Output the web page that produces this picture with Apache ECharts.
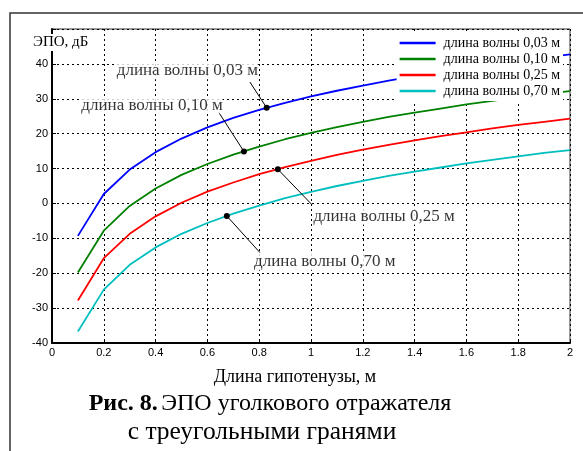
<!DOCTYPE html>
<html>
<head>
<meta charset="utf-8">
<script src="https://cdn.jsdelivr.net/npm/echarts@6/dist/echarts.min.js"></script>
<style>
  html, body { margin: 0; padding: 0; background: #fff; }
  #chart { width: 583px; height: 451px; }
</style>
</head>
<body>
<div id="chart"></div>
<script>
// длина гипотенузы, м
var hyp = [0.1, 0.2, 0.3, 0.4, 0.5, 0.6, 0.7, 0.8, 0.9, 1.0,
           1.1, 1.2, 1.3, 1.4, 1.5, 1.6, 1.7, 1.8, 1.9, 2.0];
// ЭПО, дБ
var wave003 = [-9.3, 2.7, 9.7, 14.7, 18.6, 21.8, 24.5, 26.8, 28.8, 30.7,
               32.3, 33.8, 35.2, 36.5, 37.7, 38.8, 39.9, 40.9, 41.8, 42.7];
var wave010 = [-19.8, -7.8, -0.7, 4.3, 8.2, 11.3, 14.0, 16.3, 18.4, 20.2,
               21.9, 23.4, 24.8, 26.0, 27.2, 28.4, 29.4, 30.4, 31.4, 32.2];
var wave025 = [-27.8, -15.7, -8.7, -3.7, 0.2, 3.4, 6.0, 8.4, 10.4, 12.2,
               13.9, 15.4, 16.8, 18.1, 19.3, 20.4, 21.5, 22.5, 23.4, 24.3];
var wave070 = [-36.7, -24.7, -17.6, -12.6, -8.7, -5.6, -2.9, -0.6, 1.5, 3.3,
               5.0, 6.5, 7.9, 9.1, 10.3, 11.5, 12.5, 13.5, 14.5, 15.3];
var names = ['длина волны 0,03 м', 'длина волны 0,10 м', 'длина волны 0,25 м', 'длина волны 0,70 м'];
var colors = ['#0000ff', '#008000', '#ff0000', '#00bfbf'];

// callouts: point on curve, end of leader, label centre (data units)
var calloutDots = [[0.829, 27.4], [0.741, 14.9], [0.872, 9.8], [0.675, -3.6]];
var calloutEnds = [[0.764, 34.8], [0.643, 26.2], [1.003, -0.3], [0.803, -14.1]];
var calloutText = [[0.523, 38.0], [0.386, 28.2], [1.282, -3.7], [1.053, -16.7]];

var chart = echarts.init(document.getElementById('chart'));
var serif = '"Liberation Serif", "Times New Roman", serif';
var sans = '"Liberation Sans", Arial, sans-serif';

var all = [wave003, wave010, wave025, wave070];
var series = all.map(function (vals, i) {
  return {
    name: names[i],
    type: 'line',
    symbol: 'none',
    z: 3,
    data: hyp.map(function (x, k) { return [x, vals[k]]; }),
    lineStyle: { color: colors[i], width: 1.8 },
    itemStyle: { color: colors[i] },
    markLine: {
      silent: true,
      symbol: ['none', 'none'],
      label: { show: false },
      lineStyle: { color: '#000', width: 1, type: 'solid' },
      data: [[{ coord: calloutDots[i] }, { coord: calloutEnds[i] }]]
    },
    markPoint: {
      silent: true,
      symbol: 'circle',
      symbolSize: 6,
      label: { show: false },
      itemStyle: { color: '#000' },
      data: [{ coord: calloutDots[i] }]
    }
  };
});

series.push({
  type: 'scatter',
  symbolSize: 0,
  z: 5,
  silent: true,
  data: calloutText.map(function (p, i) { return { value: p, name: names[i] }; }),
  label: {
    show: true,
    position: 'inside',
    formatter: '{b}',
    color: '#000',
    fontFamily: serif,
    fontSize: 17,
    backgroundColor: '#fff'
  }
});

var option = {
  animation: false,
  grid: { left: 52, right: 13, top: 29, bottom: 108, show: true, borderColor: '#333', borderWidth: 1 },
  legend: {
    data: names,
    orient: 'vertical',
    right: 20,
    top: 33,
    icon: 'rect',
    backgroundColor: '#fff',
    padding: [2, 3, 2, 3],
    itemWidth: 36,
    itemHeight: 2.5,
    itemGap: 0,
    textStyle: { fontFamily: serif, fontSize: 14, lineHeight: 16, color: '#000', padding: [0, 0, 0, 3] }
  },
  xAxis: {
    type: 'value',
    min: 0, max: 2, interval: 0.2,
    axisLine: { onZero: false, lineStyle: { color: '#000', width: 2 } },
    axisTick: { inside: true, length: 4, lineStyle: { color: '#000' } },
    axisLabel: { color: '#000', fontFamily: sans, fontSize: 11, margin: 4,
      formatter: function (v) { return +v.toFixed(1); } },
    splitLine: { show: true, lineStyle: { color: '#000', type: [2, 3], width: 1 } }
  },
  yAxis: {
    type: 'value',
    min: -40, max: 50, interval: 10,
    axisLine: { show: true, onZero: false, lineStyle: { color: '#000', width: 2 } },
    axisTick: { show: true, inside: true, length: 4, lineStyle: { color: '#000' } },
    axisLabel: { color: '#000', fontFamily: sans, fontSize: 11, margin: 4,
      formatter: function (v) { return v === 50 ? '' : v; } },
    splitLine: { show: true, lineStyle: { color: '#000', type: [2, 3], width: 1 } }
  },
  graphic: [
    { type: 'rect', z: -1, silent: true, shape: { x: 10, y: 13, width: 600, height: 460 },
      style: { fill: null, stroke: '#333', lineWidth: 1.5 } },
    { type: 'text', z: 10, left: 32, top: 34,
      style: { text: 'ЭПО, дБ', font: '15px ' + serif, fill: '#000', backgroundColor: '#fff', padding: [1, 1] } },
    { type: 'text', z: 10, x: 295, y: 377,
      style: { text: 'Длина гипотенузы, м', font: '18px ' + serif, fill: '#000', align: 'center', verticalAlign: 'middle' } },
    { type: 'text', z: 10, x: 270, y: 404,
      style: {
        text: '{b|Рис. 8.} {n|ЭПО уголкового отражателя}',
        align: 'center', verticalAlign: 'middle',
        rich: {
          b: { font: 'bold 24px ' + serif, fill: '#000' },
          n: { font: '24px ' + serif, fill: '#000' }
        }
      } },
    { type: 'text', z: 10, x: 262, y: 432,
      style: { text: 'с треугольными гранями', font: '25.5px ' + serif, fill: '#000', align: 'center', verticalAlign: 'middle' } }
  ],
  series: series
};
chart.setOption(option);
</script>
</body>
</html>
